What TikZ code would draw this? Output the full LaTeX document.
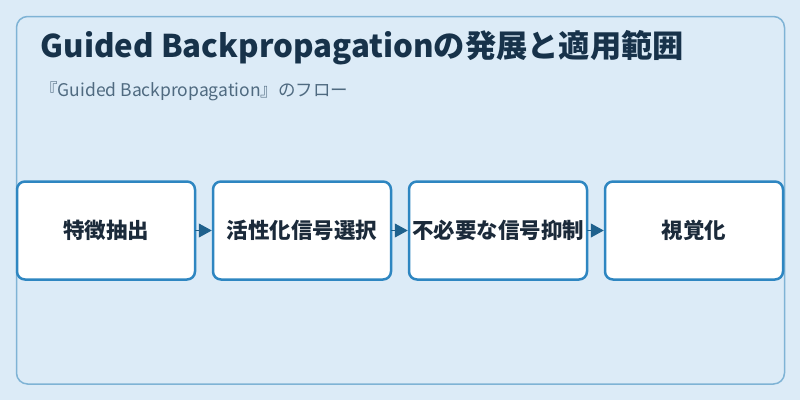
\documentclass[tikz,border=0pt]{standalone}
\usepackage{fontspec}
\setmainfont{Noto Sans CJK JP}
\usetikzlibrary{arrows.meta}
\definecolor{bgc}{HTML}{DCEBF7}
\definecolor{framec}{HTML}{7FB3D5}
\definecolor{boxc}{HTML}{2E86C1}
\definecolor{arrc}{HTML}{1F618D}
\definecolor{titlec}{HTML}{17324A}
\definecolor{subc}{HTML}{4F6A80}
\definecolor{textc}{HTML}{1B2A3A}
\begin{document}
\begin{tikzpicture}[x=1pt,y=-1pt,
  stepbox/.style={draw=boxc,line width=2.5pt,fill=white,rounded corners=8pt,
    minimum width=178pt,minimum height=98pt,inner sep=0pt,
    font=\fontsize{21.5pt}{26pt}\selectfont\bfseries,text=textc},
  flow/.style={-{Triangle[length=13pt,width=14pt]},draw=arrc,fill=arrc,line width=1pt,shorten <=-1pt}
]
\useasboundingbox (0,0) rectangle (800,400);
\fill[bgc] (0,0) rectangle (800,400);
\draw[framec,line width=1.5pt,rounded corners=11pt,fill=bgc] (16.5,16.5) rectangle (784.5,384);
\node[anchor=base west,text=titlec,font=\fontsize{31.3pt}{37pt}\selectfont\bfseries,inner sep=0pt] (title) at (40.5,57) {Guided Backpropagationの発展と適用範囲};
\node[anchor=base west,text=subc,font=\fontsize{17.5pt}{21pt}\selectfont,inner sep=0pt] (sub) at (40,96.5) {『Guided Backpropagation』のフロー};
\node[stepbox] (b1) at (106,230.5) {特徴抽出};
\node[stepbox] (b2) at (302,230.5) {活性化信号選択};
\node[stepbox] (b3) at (498,230.5) {不必要な信号抑制};
\node[stepbox] (b4) at (694,230.5) {視覚化};
\draw[flow] (b1.east) -- (b2.west);
\draw[flow] (b2.east) -- (b3.west);
\draw[flow] (b3.east) -- (b4.west);
\end{tikzpicture}
\end{document}
